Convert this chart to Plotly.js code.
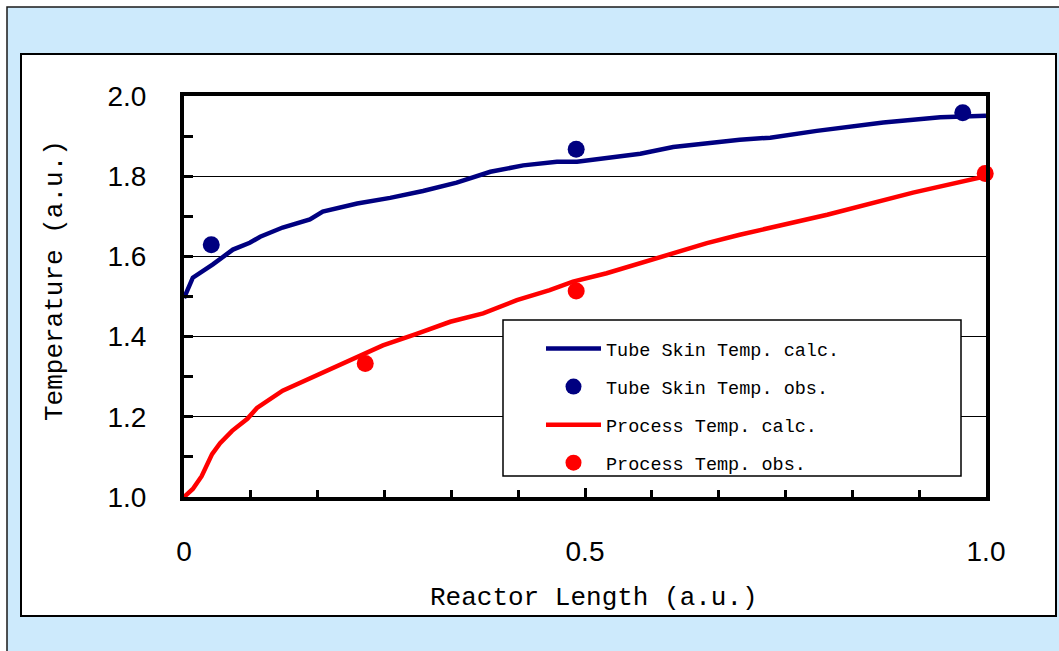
<!DOCTYPE html>
<html>
<head>
<meta charset="utf-8">
<script src="https://cdn.plot.ly/plotly-3.0.1.min.js"></script>
<style>html,body{margin:0;padding:0;background:#fff;}#chart{width:1059px;height:651px;}</style>
</head>
<body>
<div id="chart"></div>
<script>
// ---- data ----
const tubeCalcX = [0, 0.011, 0.036, 0.061, 0.082, 0.095, 0.123, 0.157, 0.173, 0.216, 0.257, 0.298, 0.340, 0.382, 0.423, 0.465, 0.490, 0.527, 0.569, 0.610, 0.652, 0.693, 0.731, 0.789, 0.872, 0.943, 1.0];
const tubeCalcY = [1.496, 1.547, 1.580, 1.617, 1.634, 1.649, 1.672, 1.692, 1.712, 1.732, 1.746, 1.763, 1.784, 1.811, 1.827, 1.836, 1.836, 1.846, 1.856, 1.873, 1.883, 1.891, 1.896, 1.913, 1.934, 1.947, 1.951];
const tubeObsX = [0.034, 0.489, 0.971];
const tubeObsY = [1.629, 1.867, 1.958];
const procCalcX = [0, 0.011, 0.022, 0.035, 0.045, 0.060, 0.079, 0.091, 0.123, 0.166, 0.207, 0.248, 0.290, 0.332, 0.373, 0.415, 0.456, 0.485, 0.527, 0.569, 0.610, 0.652, 0.693, 0.731, 0.802, 0.909, 1.0];
const procCalcY = [1.0, 1.020, 1.052, 1.107, 1.134, 1.165, 1.195, 1.222, 1.265, 1.303, 1.341, 1.378, 1.407, 1.437, 1.458, 1.491, 1.516, 1.537, 1.558, 1.583, 1.608, 1.633, 1.654, 1.671, 1.704, 1.759, 1.800];
const procObsX = [0.226, 0.489, 0.999];
const procObsY = [1.333, 1.514, 1.807];
const seriesNames = ["Tube Skin Temp. calc.", "Tube Skin Temp. obs.", "Process Temp. calc.", "Process Temp. obs."];
const xTickVals = [0, 0.5, 1.0];
const xTickText = ["0", "0.5", "1.0"];
const xTitle = "Reactor Length (a.u.)";
const yTitle = "Temperature (a.u.)";

// ---- layout helpers (pixel -> paper) ----
const W = 1059, H = 651;
const L = 184, R = 986, T = 96, B = 497;
const px = v => (v - L) / (R - L);
const py = v => (B - v) / (B - T);

const NAVY = "#000080", RED = "#ff0000";
const MONO = "Liberation Mono, DejaVu Sans Mono, monospace";
const SANS = "Liberation Sans, Arial, sans-serif";

const traces = [
  {x: tubeCalcX, y: tubeCalcY, name: seriesNames[0], mode: "lines", line: {color: NAVY, width: 4.5}, legendgroup: "a"},
  {x: tubeObsX, y: tubeObsY, name: seriesNames[1], mode: "markers", marker: {color: NAVY, size: 17}, cliponaxis: false, legendgroup: "b"},
  {x: procCalcX, y: procCalcY, name: seriesNames[2], mode: "lines", line: {color: RED, width: 4.5}, legendgroup: "c"},
  {x: procObsX, y: procObsY, name: seriesNames[3], mode: "markers", marker: {color: RED, size: 17}, cliponaxis: false, legendgroup: "d"}
];

const layout = {
  width: W, height: H,
  margin: {l: L, r: W - R, t: T, b: H - B},
  paper_bgcolor: "#ffffff",
  plot_bgcolor: "rgba(0,0,0,0)",
  showlegend: true,
  legend: {
    x: px(541), y: py(330), xanchor: "left", yanchor: "top",
    bgcolor: "rgba(0,0,0,0)", borderwidth: 0,
    font: {family: MONO, size: 18.5, color: "#000"},
    traceorder: "grouped", tracegroupgap: 11, itemwidth: 55
  },
  xaxis: {
    range: [0, 1], showgrid: false, zeroline: false,
    showline: true, linecolor: "#000", linewidth: 4, mirror: true,
    tickmode: "array", tickvals: xTickVals, ticktext: xTickText,
    ticks: "inside", ticklen: 9, tickwidth: 3, tickcolor: "#000",
    ticklabelstandoff: 26,
    tickfont: {family: SANS, size: 28, color: "#000"},
    minor: {tickmode: "linear", tick0: 0, dtick: 1/12, ticks: "inside", ticklen: 7, tickwidth: 3, tickcolor: "#000", showgrid: false}
  },
  yaxis: {
    range: [1, 2], dtick: 0.2, tick0: 1, tickformat: ".1f",
    showgrid: true, gridcolor: "#000", gridwidth: 1.2, zeroline: false,
    showline: true, linecolor: "#000", linewidth: 4, mirror: true,
    ticks: "inside", ticklen: 9, tickwidth: 3, tickcolor: "#000",
    ticklabelstandoff: 28,
    tickfont: {family: SANS, size: 28, color: "#000"},
    minor: {dtick: 0.1, ticks: "inside", ticklen: 9, tickwidth: 3, tickcolor: "#000", showgrid: false}
  },
  shapes: [
    {type: "rect", xref: "paper", yref: "paper", x0: px(7), x1: px(1075), y0: py(665), y1: py(7),
     fillcolor: "#cdeafc", line: {color: "#1a1a1a", width: 1.5}, layer: "below"},
    {type: "rect", xref: "paper", yref: "paper", x0: px(21), x1: px(1056), y0: py(616), y1: py(54),
     fillcolor: "#ffffff", line: {color: "#000", width: 2}, layer: "below"},
    {type: "rect", xref: "paper", yref: "paper", x0: px(503), x1: px(961), y0: py(476), y1: py(320),
     fillcolor: "#ffffff", line: {color: "#000", width: 1.5}, layer: "above"}
  ],
  annotations: [
    {text: xTitle, xref: "paper", yref: "paper", x: px(594), y: py(598), showarrow: false,
     xanchor: "center", yanchor: "middle", font: {family: MONO, size: 26, color: "#000"}},
    {text: yTitle, xref: "paper", yref: "paper", x: px(55), y: py(281), showarrow: false, textangle: -90,
     xanchor: "center", yanchor: "middle", font: {family: MONO, size: 26, color: "#000"}}
  ]
};

Plotly.newPlot("chart", traces, layout, {displayModeBar: false, staticPlot: true});
</script>
</body>
</html>
